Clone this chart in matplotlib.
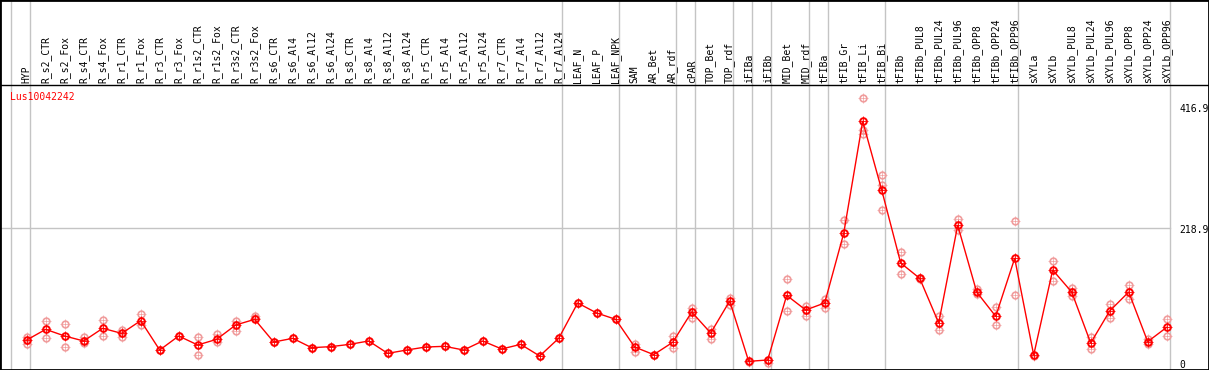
import matplotlib
matplotlib.use('Agg')
from matplotlib import pyplot as plt

samples = [
    'HYP', 'R_s2_CTR', 'R_s2_Fox', 'R_s4_CTR', 'R_s4_Fox', 'R_r1_CTR', 'R_r1_Fox',
    'R_r3_CTR', 'R_r3_Fox', 'R_r1s2_CTR', 'R_r1s2_Fox', 'R_r3s2_CTR', 'R_r3s2_Fox',
    'R_s6_CTR', 'R_s6_Al4', 'R_s6_Al12', 'R_s6_Al24', 'R_s8_CTR', 'R_s8_Al4',
    'R_s8_Al12', 'R_s8_Al24', 'R_r5_CTR', 'R_r5_Al4', 'R_r5_Al12', 'R_r5_Al24',
    'R_r7_CTR', 'R_r7_Al4', 'R_r7_Al12', 'R_r7_Al24', 'LEAF_N', 'LEAF_P', 'LEAF_NPK',
    'SAM', 'AR_Bet', 'AR_rdf', 'cPAR', 'TOP_Bet', 'TOP_rdf', 'iFIBa', 'iFIBb',
    'MID_Bet', 'MID_rdf', 'tFIBa', 'tFIB_Gr', 'tFIB_Li', 'tFIB_Bi', 'tFIBb',
    'tFIBb_PUL8', 'tFIBb_PUL24', 'tFIBb_PUL96', 'tFIBb_OPP8', 'tFIBb_OPP24',
    'tFIBb_OPP96', 'sXYLa', 'sXYLb', 'sXYLb_PUL8', 'sXYLb_PUL24', 'sXYLb_PUL96',
    'sXYLb_OPP8', 'sXYLb_OPP24', 'sXYLb_OPP96',
]

means = [
    37.4, 54.7, 43.9, 35.8, 56.4, 48.2, 68.8, 21.1, 43.9, 29.3, 38.5, 61.8, 71.0,
    34.1, 40.1, 24.9, 26.6, 30.3, 35.8, 15.7, 21.1, 26.0, 27.1, 21.1, 35.8,
    22.8, 30.3, 11.4, 40.1, 97.6, 81.3, 71.0, 26.0, 13.6, 33.6, 82.9, 48.8,
    100.8, 2.7, 4.9, 110.0, 86.2, 97.6, 210.8, 393.0, 281.3, 162.6, 137.7, 65.0,
    223.9, 115.4, 75.9, 170.2, 13.0, 151.2, 115.4, 32.5, 84.6, 115.4, 34.7, 58.0,
]

replicates = [
    [42.8, 30.4], [67.8, 40.1], [63.4, 25.5], [41.8, 32.0], [69.4, 43.9],
    [53.2, 41.8], [79.2, 61.3], [21.1], [43.9], [42.8, 13.5], [46.7, 33.7],
    [68.3, 52.0], [76.4, 72.7], [34.1], [40.1], [24.9], [26.6], [30.3], [35.8],
    [15.7], [21.1], [26.0], [27.1], [21.1], [35.8], [22.8], [30.3], [11.4],
    [40.1], [97.6], [81.3], [71.0], [30.4, 18.4], [13.6], [43.4, 23.9],
    [89.9, 72.7], [55.3, 39.5], [105.7, 93.8], [2.0], [0.5, 5.5], [136.0, 84.6],
    [93.2, 77.0], [104.0, 88.9], [232.5, 193.5], [430.4, 378.9, 372.4],
    [305.2, 288.9, 248.8], [180.0, 144.7], [138.0, 136.0], [77.0, 53.7],
    [234.0, 216.0], [119.8, 112.2], [90.6, 61.3], [230.4, 110.0], [12.0],
    [165.4, 133.8], [122.4, 109.0], [41.8, 23.3], [95.4, 72.7], [126.3, 103.6],
    [39.5, 30.9], [71.5, 43.4],
]

# last sample index of each group (separators drawn after these)
group_ends = [-1, 0, 28, 31, 34, 35, 37, 38, 39, 41, 42, 45, 52, 60]
axis_values = [416.9, 218.9, 0]
gene = 'Lus10042242'

# pixel layout: column i at x = 26.7 + 19 i, value v at y = 363 - 0.615 v
px0, dx = 26.7, 19.0
py0, dy = 363.0, 0.615
W, H = 1209, 370


def vy(pix):
    return (py0 - pix) / dy


def ix(pix):
    return (pix - px0) / dx


fig = plt.figure(figsize=(W / 100, H / 100), dpi=100)
ax = fig.add_axes([0, 0, 1, 1])
ax.set_xlim(ix(0), ix(W))
ax.set_ylim(vy(H), vy(0))
ax.set_xticks([])
ax.set_yticks([])
for s in ax.spines.values():
    s.set_linewidth(2)
    s.set_color('black')

grey = '#c4c4c4'
for g in group_ends:
    ax.axvline(g + 3.3 / dx, color=grey, lw=1, zorder=1)
ax.plot([ix(0), group_ends[-1] + 3.3 / dx], [axis_values[1]] * 2, color=grey, lw=1, zorder=1)
ax.axhline(vy(85), color='black', lw=1, zorder=2)

xs = list(range(len(samples)))
rx, ry = [], []
for i, reps in enumerate(replicates):
    rx += [i] * len(reps)
    ry += reps
pink = '#f09c9c'
ax.plot(rx, ry, ls='none', marker='+', ms=6.5, mew=0.5, color=pink, zorder=3)
ax.plot(rx, ry, ls='none', marker='o', ms=4.8, mew=1.2, mfc='none', mec=pink, zorder=3)

ax.plot(xs, means, color='red', lw=1, zorder=4)
ax.plot(xs, means, ls='none', marker='+', ms=6.5, mew=0.6, color='red', zorder=5)
ax.plot(xs, means, ls='none', marker='o', ms=4.8, mew=1.4, mfc='none', mec='red', zorder=5)

for i, name in enumerate(samples):
    ax.text(i, vy(83), name, rotation=90, ha='center', va='bottom',
            family='DejaVu Sans Mono', fontsize=7, color='black')

ax.text(ix(10), vy(92), gene, ha='left', va='top', family='DejaVu Sans Mono',
        fontsize=7, color='red')
for v in axis_values:
    ax.text(ix(1179), vy(py0 - dy * v + 2), f'{v:g}', ha='left', va='center',
            family='DejaVu Sans Mono', fontsize=7, color='black')

fig.savefig('out.png', dpi=100)
